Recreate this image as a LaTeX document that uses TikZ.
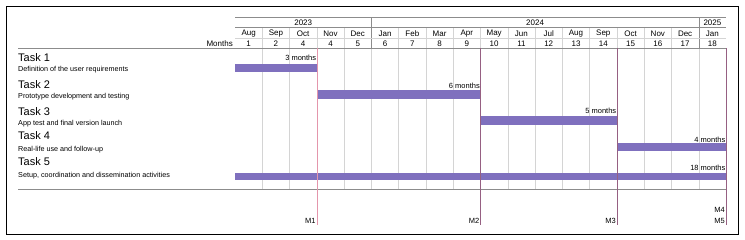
\documentclass[tikz,border=0pt]{standalone}
\usepackage{fontspec}
\setmainfont{Liberation Sans}
\usepackage{xcolor}

\definecolor{barpurple}{RGB}{127,112,190}
\definecolor{gridgray}{RGB}{212,212,212}
\definecolor{rulegray}{RGB}{140,140,140}
\definecolor{mspink}{RGB}{228,150,172}
\definecolor{msmauve}{RGB}{150,96,130}

\tikzset{
  header/.style={font=\fontsize{8}{9}\selectfont, inner sep=0pt},
  tasktitle/.style={font=\fontsize{11}{12}\selectfont, anchor=west, inner sep=0pt},
  tasktext/.style={font=\fontsize{7.2}{8}\selectfont, anchor=west, inner sep=0pt},
  duration/.style={font=\fontsize{7.5}{8}\selectfont, anchor=east, inner sep=0.5pt},
  mslabel/.style={font=\fontsize{7.5}{8}\selectfont, anchor=east, inner sep=1pt},
  taskbar/.style={fill=barpurple},
}

\begin{document}
\begin{tikzpicture}[x=1pt, y=-1pt]
    \useasboundingbox (0,0) rectangle (745,240);
    \def\xo{235}
    \def\cw{27.28}

    % Frame
    \draw[line width=0.8pt] (6,6) rectangle (738,234);

    % Grid
    \foreach \i in {1,...,17} {
        \draw[gridgray] ({\xo+\i*\cw},27.7) -- ({\xo+\i*\cw},48.5);
        \draw[gridgray] ({\xo+\i*\cw},48.5) -- ({\xo+\i*\cw},189.3);
    }
    \draw[rulegray] ({\xo+5*\cw},17.7) -- ({\xo+5*\cw},48.5);
    \draw[rulegray] ({\xo+17*\cw},17.7) -- ({\xo+17*\cw},48.5);
    \draw[rulegray] (\xo,17.7) -- ({\xo+18*\cw},17.7);
    \draw[rulegray] (\xo,27.7) -- ({\xo+18*\cw},27.7);
    \draw[gridgray] (\xo,38.7) -- ({\xo+18*\cw},38.7);
    \draw[rulegray, line width=1.5pt] (18,48.5) -- ({\xo+18*\cw},48.5);
    \draw[rulegray, line width=0.9pt] (18,189.3) -- ({\xo+18*\cw},189.3);

    % Header
    \node[header] (y2023) at ({\xo+2.5*\cw},22.7) {2023};
    \node[header] (y2024) at ({\xo+11*\cw},22.7) {2024};
    \node[header] (y2025) at ({\xo+17.5*\cw},22.7) {2025};
    \foreach \m [count=\i] in {Aug,Sep,Oct,Nov,Dec,Jan,Feb,Mar,Apr,May,Jun,Jul,Aug,Sep,Oct,Nov,Dec,Jan}
        \node[header] (mon\i) at ({\xo+(\i-0.5)*\cw},33.3) {\m};
    \foreach \n [count=\i] in {1,2,4,4,5,6,7,8,9,10,11,12,13,14,15,16,17,18}
        \node[header] (num\i) at ({\xo+(\i-0.5)*\cw},43.6) {\n};
    \node[header, anchor=east] (months) at (233,43.6) {Months};

    % Tasks
    \node[tasktitle] (t1) at (18,57.3) {Task 1};
    \node[tasktext] (d1) at (18,70) {Definition of the user requirements};
    \node[tasktitle] (t2) at (18,85) {Task 2};
    \node[tasktext] (d2) at (18,96.7) {Prototype development and testing};
    \node[tasktitle] (t3) at (18,111.7) {Task 3};
    \node[tasktext] (d3) at (18,123.3) {App test and final version launch};
    \node[tasktitle] (t4) at (18,136) {Task 4};
    \node[tasktext] (d4) at (18,149.3) {Real-life use and follow-up};
    \node[tasktitle] (t5) at (18,161.7) {Task 5};
    \node[tasktext] (d5) at (18,175.3) {Setup, coordination and dissemination activities};

    % Bars
    \fill[taskbar] (\xo,63.7) rectangle ({\xo+3*\cw},71.7);
    \fill[taskbar] ({\xo+3*\cw},90.5) rectangle ({\xo+9*\cw},99);
    \fill[taskbar] ({\xo+9*\cw},116.3) rectangle ({\xo+14*\cw},125);
    \fill[taskbar] ({\xo+14*\cw},143.3) rectangle ({\xo+18*\cw},151);
    \fill[taskbar] (\xo,172.7) rectangle ({\xo+18*\cw},180.3);
    \node[duration] (l1) at ({\xo+3*\cw},58) {3 months};
    \node[duration] (l2) at ({\xo+9*\cw},86) {6 months};
    \node[duration] (l3) at ({\xo+14*\cw},110.5) {5 months};
    \node[duration] (l4) at ({\xo+18*\cw},140) {4 months};
    \node[duration] (l5) at ({\xo+18*\cw},167.7) {18 months};

    % Milestones
    \coordinate (m1top) at ({\xo+3*\cw},48.5);
    \coordinate (m1bot) at ({\xo+3*\cw},225);
    \coordinate (m2top) at ({\xo+9*\cw},48.5);
    \coordinate (m2bot) at ({\xo+9*\cw},225);
    \coordinate (m3top) at ({\xo+14*\cw},48.5);
    \coordinate (m3bot) at ({\xo+14*\cw},225);
    \coordinate (m4top) at ({\xo+18*\cw},48.5);
    \coordinate (m4bot) at ({\xo+18*\cw},225);
    \draw[mspink] (m1top) -- (m1bot);
    \draw[msmauve] (m2top) -- (m2bot);
    \draw[msmauve] (m3top) -- (m3bot);
    \draw[msmauve] (m4top) -- (m4bot);
    \node[mslabel] (ms1) at ({\xo+3*\cw},221) {M1};
    \node[mslabel] (ms2) at ({\xo+9*\cw},221) {M2};
    \node[mslabel] (ms3) at ({\xo+14*\cw},221) {M3};
    \node[mslabel] (ms4) at ({\xo+18*\cw},209.5) {M4};
    \node[mslabel] (ms5) at ({\xo+18*\cw},220.5) {M5};
\end{tikzpicture}
\end{document}
